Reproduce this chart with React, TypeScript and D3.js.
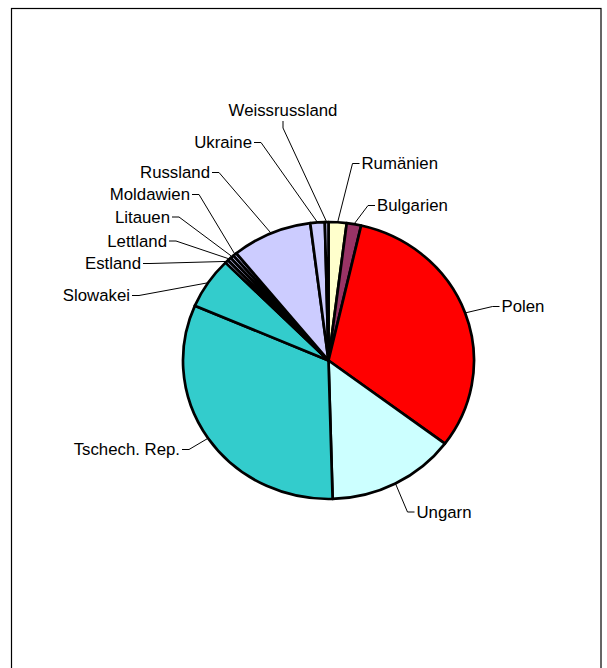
import React from "react";
import * as d3 from "d3";

const categories = [
  "Rumänien",
  "Bulgarien",
  "Polen",
  "Ungarn",
  "Tschech. Rep.",
  "Slowakei",
  "Estland",
  "Lettland",
  "Litauen",
  "Moldawien",
  "Russland",
  "Ukraine",
  "Weissrussland",
];
const values = [2.0, 1.6, 31.6, 14.3, 31.9, 6.0, 0.4, 0.4, 0.4, 0.4, 8.9, 1.6, 0.4];
const colors = [
  "#FFFFCC",
  "#993366",
  "#FF0000",
  "#CCFFFF",
  "#33CCCC",
  "#33CCCC",
  "#CCCCFF",
  "#CCCCFF",
  "#CCCCFF",
  "#CCCCFF",
  "#CCCCFF",
  "#CCCCFF",
  "#CCCCFF",
];

// label layout: x, baseline y, anchor
const labelLayout: { x: number; y: number; anchor: "start" | "end" | "middle" }[] = [
  { x: 361.5, y: 169, anchor: "start" },
  { x: 377, y: 211, anchor: "start" },
  { x: 501.5, y: 312, anchor: "start" },
  { x: 416.5, y: 517.5, anchor: "start" },
  { x: 180, y: 455, anchor: "end" },
  { x: 130, y: 301, anchor: "end" },
  { x: 141, y: 269, anchor: "end" },
  { x: 167, y: 246.5, anchor: "end" },
  { x: 170, y: 222.5, anchor: "end" },
  { x: 190, y: 200, anchor: "end" },
  { x: 210, y: 178, anchor: "end" },
  { x: 252, y: 148, anchor: "end" },
  { x: 283, y: 116, anchor: "middle" },
];

const W = 607;
const H = 668;
const cx = 328.5;
const cy = 360.5;
const rx = 145.5;
const ry = 138.5;

export default function App() {
  const pie = d3
    .pie<number>()
    .sort(null)
    .startAngle(0)
    .endAngle(2 * Math.PI)
    .value((d) => d);
  const arcs = pie(values);
  const arc = d3.arc<d3.PieArcDatum<number>>().innerRadius(0).outerRadius(rx);

  const edgePoint = (a: number) => [cx + rx * Math.sin(a), cy - ry * Math.cos(a)];

  return (
    <svg
      width={W}
      height={H}
      style={{ position: "absolute", left: 0, top: 0, background: "#fff" }}
      fontFamily="'Liberation Sans', Arial, sans-serif"
    >
      <rect x={11.5} y={8.5} width={589.5} height={700} fill="#fff" stroke="#000" strokeWidth={1.2} />
      <g transform={`translate(${cx},${cy}) scale(1,${ry / rx})`}>
        {arcs.map((a, i) => (
          <path
            key={i}
            d={arc(a) || ""}
            fill={colors[i]}
            stroke="#000"
            strokeWidth={2.7}
            strokeLinejoin="round"
            vectorEffect="non-scaling-stroke"
          />
        ))}
      </g>
      {arcs.map((a, i) => {
        const lay = labelLayout[i];
        const mid = (a.startAngle + a.endAngle) / 2;
        const [ex, ey] = edgePoint(mid);
        let pts: number[][];
        const ly = lay.y - 5.5;
        if (lay.anchor === "end") {
          pts = [
            [lay.x + 2, ly],
            [lay.x + 9, ly],
            [ex, ey],
          ];
        } else if (lay.anchor === "start") {
          pts = [
            [lay.x - 2, ly],
            [lay.x - 9, ly],
            [ex, ey],
          ];
        } else {
          pts = [
            [lay.x, lay.y + 5],
            [lay.x, lay.y + 12],
            [ex, ey],
          ];
        }
        const line = d3.line()(pts as [number, number][]) || "";
        return (
          <g key={"l" + i}>
            <path d={line} fill="none" stroke="#000" strokeWidth={1} />
            <text x={lay.x} y={lay.y} textAnchor={lay.anchor} fontSize={16.8} fill="#000">
              {categories[i]}
            </text>
          </g>
        );
      })}
    </svg>
  );
}
